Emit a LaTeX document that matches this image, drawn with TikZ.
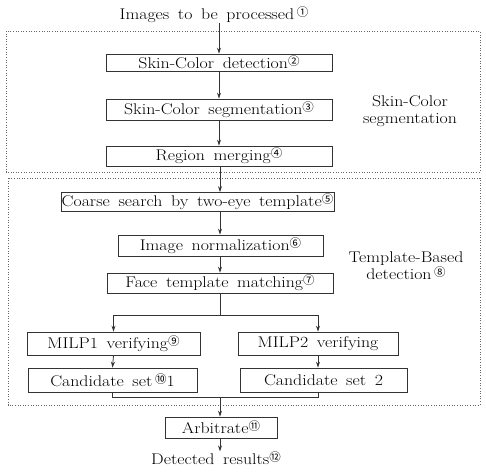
\documentclass[tikz,border=0pt]{standalone}
\usepackage{fontspec}
\setmainfont{Latin Modern Roman}[FakeStretch=1.15, WordSpace=1.6]
\newfontfamily\cjk{Noto Sans CJK SC}
\usetikzlibrary{arrows.meta}
\newcommand{\cn}[1]{\raisebox{0.45ex}{\fontsize{11.5}{11.5}\selectfont\cjk #1}}
\begin{document}
\begin{tikzpicture}[x=1pt,y=-1pt,
  line/.style={draw=black!80, line width=0.8pt},
  arr/.style={line, -{Stealth[length=6pt,width=4pt]}},
  box/.style={line, fill=white, inner sep=0pt, font=\fontsize{15.5}{17}\selectfont, anchor=center},
  lbl/.style={font=\fontsize{15.5}{17}\selectfont, inner sep=0pt, align=center},
  grp/.style={draw=black!60, line width=0.7pt, dash pattern=on 1pt off 1.6pt},
  side/.style={font=\fontsize{15.5}{17}\selectfont, inner sep=0pt, align=center}]
\useasboundingbox (0,0) rectangle (486,475);
\fill[white] (0,0) rectangle (486,475);
% group boxes
\draw[grp] (6,31) rectangle (480,172);
\draw[grp] (8,178) rectangle (480,405);
% nodes
\node[lbl] (title) at (214,15) {Images to be processed\,\cn{①}};
\node[box, minimum width=226, minimum height=17] (det) at (219,62.5) {Skin-Color detection\cn{②}};
\node[box, minimum width=226, minimum height=21] (seg) at (219,109.5) {Skin-Color segmentation\cn{③}};
\node[box, minimum width=226, minimum height=20] (mrg) at (219,156) {Region merging\cn{④}};
\node[box, minimum width=273, minimum height=19] (crs) at (197.5,202) {Coarse search by two-eye template\cn{⑤}};
\node[box, minimum width=205, minimum height=21] (nrm) at (220.5,245.5) {Image normalization\cn{⑥}};
\node[box, minimum width=226, minimum height=20] (fac) at (220,283) {Face template matching\cn{⑦}};
\node[box, minimum width=173, minimum height=23] (mp1) at (113.5,343.5) {MILP1 verifying\cn{⑨}};
\node[box, minimum width=160, minimum height=23] (mp2) at (318,343.5) {MILP2 verifying};
\node[box, minimum width=169, minimum height=24] (cd1) at (112.5,380) {Candidate set\,\cn{⑩}1};
\node[box, minimum width=167, minimum height=24] (cd2) at (323.5,380) {Candidate set 2};
\node[box, minimum width=112, minimum height=21] (arb) at (221,427.5) {Arbitrate\cn{⑪}};
\node[lbl] (res) at (216,458) {Detected results\cn{⑫}};
\node[side] (s1) at (410,111) {Skin-Color\\segmentation};
\node[side] (s2) at (406,266) {Template-Based\\detection\,\cn{⑧}};
% connectors
\coordinate (split) at (220,315);
\coordinate (join) at (220,397);
\draw[arr] (title.south -| det) -- (det.north);
\draw[arr] (det.south) -- (seg.north);
\draw[arr] (seg.south) -- (mrg.north);
\draw[arr] (mrg.south -| split) -- (crs.north -| split);
\draw[arr] (crs.south -| split) -- (nrm.north -| split);
\draw[arr] (nrm.south -| split) -- (fac.north -| split);
\draw[line] (fac.south -| split) -- (split);
\draw[arr] (split) -| (mp1.north);
\draw[arr] (split) -| (mp2.north);
\draw[arr] (mp1.south) -- (cd1.south |- cd1.north) ;
\draw[arr] (mp2.south) -- (mp2.south |- cd2.north);
\draw[line] (cd1.south) |- (join);
\draw[line] (mp2.south |- cd2.south) |- (join);
\draw[arr] (join) -- (arb.north -| join);
\draw[arr] (arb.south -| join) -- (res.north -| join);
\end{tikzpicture}
\end{document}
